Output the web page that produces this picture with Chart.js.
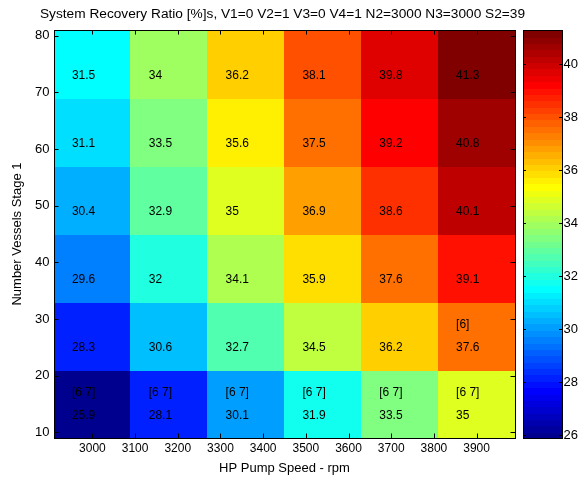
<!DOCTYPE html>
<html>
<head>
<meta charset="utf-8">
<script src="https://cdn.jsdelivr.net/npm/chart.js@4.4.0/dist/chart.umd.min.js"></script>
<style>
  html, body { margin: 0; padding: 0; background: #fff; }
</style>
</head>
<body>
<canvas id="heatmap" width="582" height="478"></canvas>
<script>
const speeds = [3000, 3180, 3360, 3540, 3720, 3900];
const vessels = [15, 27, 39, 51, 63, 75];
// one row per vessels value, one column per speed
const recovery = [
  [25.9, 28.1, 30.1, 31.9, 33.5, 35.0],
  [28.3, 30.6, 32.7, 34.5, 36.2, 37.6],
  [29.6, 32.0, 34.1, 35.9, 37.6, 39.1],
  [30.4, 32.9, 35.0, 36.9, 38.6, 40.1],
  [31.1, 33.5, 35.6, 37.5, 39.2, 40.8],
  [31.5, 34.0, 36.2, 38.1, 39.8, 41.3]
];
const flags = [
  ['[6 7]', '[6 7]', '[6 7]', '[6 7]', '[6 7]', '[6 7]'],
  ['', '', '', '', '', '[6]'],
  ['', '', '', '', '', ''],
  ['', '', '', '', '', ''],
  ['', '', '', '', '', ''],
  ['', '', '', '', '', '']
];
const xTicks = [3000, 3100, 3200, 3300, 3400, 3500, 3600, 3700, 3800, 3900];
const yTicks = [10, 20, 30, 40, 50, 60, 70, 80];
const cbTicks = [26, 28, 30, 32, 34, 36, 38, 40];

const allVals = recovery.flat();
const cMin = Math.min(...allVals);
const cMax = Math.max(...allVals);
const hx = (speeds[1] - speeds[0]) / 2;
const hy = (vessels[1] - vessels[0]) / 2;

// matlab jet(64)
function jet(v) {
  const k = Math.min(63, Math.max(0, Math.floor((v - cMin) / (cMax - cMin) * 64)));
  const c = a => Math.round(255 * Math.max(0, Math.min(1, a)));
  const r = c(Math.min((k - 23) / 16, (71 - k) / 16));
  const g = c(Math.min((k - 7) / 16, (55 - k) / 16));
  const b = c(Math.min((k + 9) / 16, (39 - k) / 16));
  return `rgb(${r},${g},${b})`;
}

const cells = [];
vessels.forEach((vy, i) => {
  speeds.forEach((sx, j) => {
    cells.push({ x: sx, y: vy, v: recovery[i][j], flag: flags[i][j] });
  });
});

const FONT = "'Liberation Sans', Arial, sans-serif";
const CB_GAP = 8, CB_W = 39;

const heatmapPlugin = {
  id: 'heatmap',
  afterLayout(chart) {
    // push colorbar labels to the right of the bar
    const cb = chart.scales.cb;
    cb.left += CB_GAP + CB_W + 1;
    cb.right += CB_GAP + CB_W + 1;
  },
  beforeDatasetsDraw(chart) {
    const { ctx, scales: { x, y } } = chart;
    ctx.save();
    chart.data.datasets[0].data.forEach(p => {
      const l = x.getPixelForValue(p.x - hx), r = x.getPixelForValue(p.x + hx);
      const t = y.getPixelForValue(p.y + hy), b = y.getPixelForValue(p.y - hy);
      ctx.fillStyle = jet(p.v);
      ctx.fillRect(Math.floor(l), Math.floor(t), Math.ceil(r - l) + 1, Math.ceil(b - t) + 1);
    });
    ctx.restore();
  },
  afterDatasetsDraw(chart) {
    const { ctx, chartArea: a, scales: { x, y, cb } } = chart;
    ctx.save();
    // cell labels
    ctx.fillStyle = '#000';
    ctx.font = '12px ' + FONT;
    ctx.textAlign = 'left';
    ctx.textBaseline = 'middle';
    chart.data.datasets[0].data.forEach(p => {
      const tx = x.getPixelForValue(p.x - 48);
      ctx.fillText(String(p.v), tx, y.getPixelForValue(p.y - 2));
      if (p.flag) ctx.fillText(p.flag, tx, y.getPixelForValue(p.y + 2));
    });

    // axes box + inward ticks
    ctx.strokeStyle = '#000';
    ctx.lineWidth = 1;
    ctx.beginPath();
    xTicks.forEach(v => {
      const px = Math.round(x.getPixelForValue(v)) + 0.5;
      ctx.moveTo(px, a.bottom); ctx.lineTo(px, a.bottom - 4.5);
      ctx.moveTo(px, a.top); ctx.lineTo(px, a.top + 4.5);
    });
    yTicks.forEach(v => {
      const py = Math.round(y.getPixelForValue(v)) + 0.5;
      ctx.moveTo(a.left, py); ctx.lineTo(a.left + 4.5, py);
      ctx.moveTo(a.right, py); ctx.lineTo(a.right - 4.5, py);
    });
    ctx.stroke();
    ctx.strokeRect(Math.round(a.left) + 0.5, Math.round(a.top) + 0.5,
      Math.round(a.right - a.left), Math.round(a.bottom - a.top));

    // colorbar
    const cl = Math.round(a.right) + CB_GAP;
    const step = (cMax - cMin) / 64;
    for (let k = 0; k < 64; k++) {
      const v0 = cMin + k * step, v1 = v0 + step;
      const t = cb.getPixelForValue(v1), b = cb.getPixelForValue(v0);
      ctx.fillStyle = jet(v0 + step / 2);
      ctx.fillRect(cl, Math.floor(t), CB_W, Math.ceil(b - t) + 1);
    }
    ctx.beginPath();
    cbTicks.forEach(v => {
      const py = Math.round(cb.getPixelForValue(v)) + 0.5;
      ctx.moveTo(cl, py); ctx.lineTo(cl + 3, py);
      ctx.moveTo(cl + CB_W, py); ctx.lineTo(cl + CB_W - 3, py);
    });
    ctx.stroke();
    ctx.strokeRect(cl + 0.5, Math.round(a.top) + 0.5, CB_W, Math.round(a.bottom - a.top));
    ctx.restore();
  }
};

const ctx = document.getElementById('heatmap').getContext('2d');
new Chart(ctx, {
  type: 'scatter',
  data: {
    datasets: [{
      label: 'Recovery',
      data: cells,
      pointRadius: 0,
      pointHoverRadius: 0
    }]
  },
  options: {
    responsive: false,
    animation: false,
    events: [],
    layout: { padding: { left: 0, right: 17, top: 0, bottom: 0 } },
    plugins: {
      legend: { display: false },
      tooltip: { enabled: false },
      title: {
        display: true,
        text: 'System Recovery Ratio [%]s, V1=0 V2=1 V3=0 V4=1 N2=3000 N3=3000 S2=39',
        color: '#000',
        font: { family: FONT, size: 13.7, weight: 'normal' },
        padding: { top: 6.5, bottom: 7.1 }
      }
    },
    scales: {
      x: {
        type: 'linear',
        min: speeds[0] - hx,
        max: speeds[speeds.length - 1] + hx,
        afterBuildTicks: s => { s.ticks = xTicks.map(v => ({ value: v })); },
        afterFit: s => { s.height = 40; },
        grid: { display: false, drawTicks: false },
        border: { display: false },
        ticks: { color: '#000', font: { family: FONT, size: 12 }, padding: 3, maxRotation: 0, autoSkip: false,
                 callback: v => String(v) },
        title: {
          display: true, text: 'HP Pump Speed - rpm', color: '#000',
          font: { family: FONT, size: 13 }, padding: { top: 0, bottom: 2.2 }
        }
      },
      y: {
        type: 'linear',
        min: vessels[0] - hy,
        max: vessels[vessels.length - 1] + hy,
        afterBuildTicks: s => { s.ticks = yTicks.map(v => ({ value: v })); },
        afterFit: s => { s.width = 54; },
        grid: { display: false, drawTicks: false },
        border: { display: false },
        ticks: { color: '#000', font: { family: FONT, size: 13 }, padding: 4.5, autoSkip: false,
                 callback: v => String(v) },
        title: {
          display: true, text: 'Number Vessels Stage 1', color: '#000',
          font: { family: FONT, size: 13 }, padding: { top: 9.5, bottom: 0 }
        }
      },
      cb: {
        type: 'linear',
        position: 'right',
        min: cMin,
        max: cMax,
        afterBuildTicks: s => { s.ticks = cbTicks.map(v => ({ value: v })); },
        afterFit: s => { s.width = 50; },
        grid: { display: false, drawTicks: false },
        border: { display: false },
        ticks: { color: '#000', font: { family: FONT, size: 13 }, padding: 0.5, autoSkip: false,
                 callback: v => String(v) }
      }
    }
  },
  plugins: [heatmapPlugin]
});
</script>
</body>
</html>
